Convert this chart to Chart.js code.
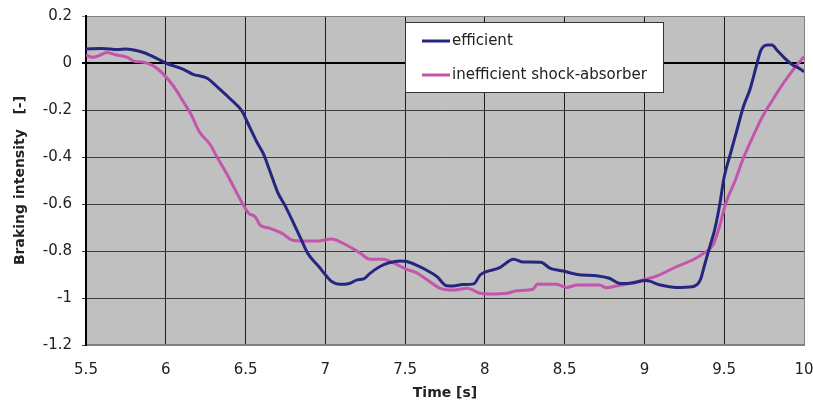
<!DOCTYPE html>
<html>
<head>
<meta charset="utf-8">
<script src="https://cdn.jsdelivr.net/npm/chart.js@4.4.1/dist/chart.umd.min.js"></script>
<style>
  html, body { margin: 0; padding: 0; background: #fff; }
  #box { width: 813px; height: 408px; }
</style>
</head>
<body>
<div id="box"><canvas id="grafico"></canvas></div>
<script>
// time [s] and braking intensity [-]
let tempoEff = [5.5,5.6,5.7,5.75,5.8,5.85,5.9,5.95,6.0,6.11,6.17,6.26,6.32,6.4,6.48,6.51,6.57,6.61,6.65,6.7,
  6.75,6.8,6.85,6.89,6.96,7.01,7.04,7.09,7.15,7.2,7.24,7.28,7.34,7.4,7.47,7.51,7.57,7.63,7.7,7.76,
  7.8,7.86,7.93,7.97,8.01,8.09,8.18,8.24,8.35,8.41,8.49,8.58,8.7,8.78,8.85,8.91,9.01,9.1,9.2,9.3,
  9.35,9.38,9.41,9.44,9.47,9.5,9.54,9.58,9.62,9.66,9.7,9.73,9.77,9.8,9.83,9.88,9.93,9.97,10.0];
let valoriEff = [0.06,0.062,0.057,0.06,0.055,0.047,0.034,0.017,0,-0.027,-0.048,-0.065,-0.1,-0.15,-0.207,-0.25,-0.335,-0.384,-0.455,-0.548,
  -0.61,-0.68,-0.753,-0.81,-0.867,-0.909,-0.93,-0.942,-0.938,-0.923,-0.919,-0.895,-0.867,-0.85,-0.843,-0.845,-0.86,-0.88,-0.909,-0.948,
  -0.949,-0.943,-0.94,-0.902,-0.888,-0.872,-0.835,-0.847,-0.848,-0.874,-0.885,-0.9,-0.905,-0.916,-0.938,-0.937,-0.926,-0.945,-0.955,-0.952,
  -0.923,-0.852,-0.78,-0.71,-0.61,-0.484,-0.384,-0.285,-0.186,-0.115,-0.016,0.055,0.077,0.077,0.055,0.02,-0.009,-0.023,-0.037];

let tempoIneff = [5.5,5.54,5.59,5.63,5.69,5.76,5.8,5.86,5.92,5.98,6.05,6.11,6.16,6.21,6.28,6.32,6.38,6.43,6.48,6.52,
  6.56,6.59,6.65,6.73,6.79,6.86,6.95,7.04,7.11,7.18,7.22,7.28,7.36,7.43,7.51,7.57,7.64,7.72,7.8,7.89,
  7.97,8.03,8.14,8.2,8.3,8.33,8.45,8.51,8.58,8.72,8.76,8.83,8.91,8.99,9.08,9.2,9.31,9.37,9.43,9.47,
  9.51,9.57,9.62,9.68,9.74,9.81,9.87,9.93,10.0];
let valoriIneff = [0.034,0.024,0.034,0.045,0.034,0.024,0.008,0.003,-0.011,-0.044,-0.1,-0.165,-0.221,-0.292,-0.349,-0.399,-0.469,-0.533,-0.597,-0.64,
  -0.654,-0.689,-0.703,-0.725,-0.753,-0.757,-0.757,-0.749,-0.767,-0.793,-0.81,-0.835,-0.835,-0.852,-0.878,-0.892,-0.923,-0.959,-0.966,-0.959,
  -0.98,-0.983,-0.98,-0.969,-0.963,-0.94,-0.942,-0.955,-0.945,-0.945,-0.956,-0.948,-0.937,-0.923,-0.906,-0.867,-0.835,-0.81,-0.774,-0.697,
  -0.597,-0.498,-0.405,-0.313,-0.228,-0.15,-0.087,-0.03,0.027];

let etichette = ["efficient", "inefficient shock-absorber"];
let tickX = [5.5,6,6.5,7,7.5,8,8.5,9,9.5,10];
let tickY = [0.2,0,-0.2,-0.4,-0.6,-0.8,-1,-1.2];

function punti(tempi, valori)
{
  let out = [];
  for (let i = 0; i < tempi.length; i++)
    out.push({x: tempi[i], y: valori[i]});
  return out;
}

// grey plot background
const sfondo = {
  id: 'sfondo',
  beforeDraw(chart) {
    const a = chart.chartArea, ctx = chart.ctx;
    ctx.save();
    ctx.fillStyle = '#c0c0c0';
    ctx.fillRect(a.left, a.top, a.right - a.left, a.bottom - a.top);
    ctx.restore();
  }
};

// white legend box inside the plot, like the excel one
const legenda = {
  id: 'legenda',
  afterDraw(chart) {
    const ctx = chart.ctx;
    const a = chart.chartArea;
    const x0 = a.left + 319, y0 = a.top + 6, w = 258, h = 70;
    ctx.save();
    ctx.fillStyle = '#fff';
    ctx.fillRect(x0, y0, w, h);
    ctx.strokeStyle = '#333';
    ctx.lineWidth = 1;
    ctx.strokeRect(x0 + 0.5, y0 + 0.5, w, h);
    ctx.font = '15px "DejaVu Sans"';
    ctx.textBaseline = 'middle';
    chart.data.datasets.forEach((ds, i) => {
      const y = y0 + 19 + i * 34;
      ctx.strokeStyle = ds.borderColor;
      ctx.lineWidth = 3;
      ctx.beginPath();
      ctx.moveTo(x0 + 17, y);
      ctx.lineTo(x0 + 45, y);
      ctx.stroke();
      ctx.fillStyle = '#222';
      ctx.fillText(ds.label, x0 + 47, y);
    });
    ctx.restore();
  }
};

const ctx = document.getElementById('grafico');
const grafico = new Chart(ctx, {
  type: 'line',
  data: {
    datasets: [
      { label: etichette[0], data: punti(tempoEff, valoriEff), borderColor: '#262680', borderWidth: 3,
        pointRadius: 0, cubicInterpolationMode: 'monotone' },
      { label: etichette[1], data: punti(tempoIneff, valoriIneff), borderColor: '#c455ac', borderWidth: 3,
        pointRadius: 0, cubicInterpolationMode: 'monotone' }
    ]
  },
  options: {
    responsive: true,
    maintainAspectRatio: false,
    animation: false,
    layout: { padding: { top: 16, right: 9, left: 0, bottom: 0 } },
    plugins: { legend: { display: false }, tooltip: { enabled: false } },
    scales: {
      x: {
        type: 'linear', min: 5.5, max: 10,
        afterBuildTicks: (s) => { s.ticks = tickX.map(v => ({value: v})); },
        afterFit: (s) => { s.height = 63; s.paddingLeft = 0; s.paddingRight = 0; },
        ticks: { color: '#222', font: { family: 'DejaVu Sans', size: 15 }, padding: 16, maxRotation: 0,
          callback: (v) => String(v) },
        grid: { drawTicks: false, lineWidth: 1,
          color: (c) => (c.tick && c.tick.value === 10) ? '#808080' : '#1e1e1e' },
        border: { color: '#808080', width: 2 },
        title: { display: true, text: 'Time [s]', color: '#222',
          font: { family: 'DejaVu Sans', size: 14, weight: 'bold' }, padding: { top: 4, bottom: 6 } }
      },
      y: {
        min: -1.2, max: 0.2,
        afterBuildTicks: (s) => { s.ticks = tickY.map(v => ({value: v})); },
        afterFit: (s) => { s.width = 86; s.paddingTop = 0; s.paddingBottom = 0; },
        ticks: { color: '#222', font: { family: 'DejaVu Sans', size: 15 }, padding: 10,
          callback: (v) => String(v) },
        grid: { tickLength: 4,
          lineWidth: (c) => (c.tick && c.tick.value === 0) ? 2 : 1,
          color: (c) => {
            if (!c.tick) return '#444';
            if (c.tick.value === 0) return '#000';
            if (c.tick.value === 0.2) return '#808080';
            return '#3c3c3c';
          } },
        border: { color: '#000', width: 2 },
        title: { display: true, text: 'Braking intensity   [-]', color: '#222',
          font: { family: 'DejaVu Sans', size: 14, weight: 'bold' }, padding: { top: 12, bottom: 0 } }
      }
    }
  },
  plugins: [sfondo, legenda]
});
</script>
</body>
</html>
